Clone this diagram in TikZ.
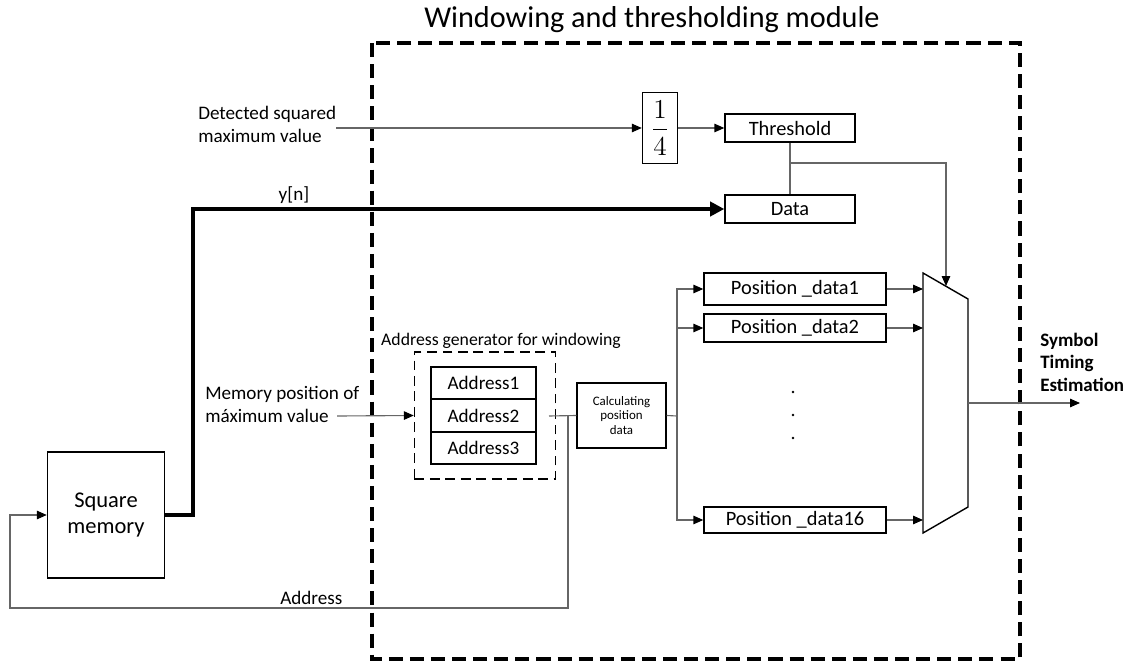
\documentclass[tikz,border=0pt]{standalone}
\usepackage{fontspec}
\setmainfont{Carlito}
\usepackage{amsmath}
\usetikzlibrary{arrows.meta}

\tikzset{
  blk/.style={draw, line width=1pt, inner sep=0pt, font=\fontsize{14.5}{17}\selectfont},
  addrbox/.style={blk, minimum width=2.625cm, minimum height=0.8cm, font=\fontsize{13.6}{16}\selectfont},
  posbox/.style={blk, minimum width=4.55cm},
  conn/.style={draw=black!60, line width=0.8pt},
  tip/.style={-{Triangle[color=black, length=7pt, width=6pt]}},
  bus/.style={draw=black, line width=3.5pt, -{Triangle[length=10pt, width=10pt]}},
  lbl/.style={inner sep=2pt, font=\fontsize{13.6}{16.4}\selectfont}
}

\begin{document}
\begin{tikzpicture}[x=0.025cm, y=-0.025cm]
        \useasboundingbox (0,0) rectangle (1131,662);

        \draw[line width=2.8pt, dash pattern=on 10pt off 5pt] (372,43) rectangle (1020,659);
        \node[font=\fontsize{21.5}{25}\selectfont] (title) at (652,20) {Windowing and thresholding module};

        \node[blk, minimum width=0.875cm, minimum height=1.775cm]
              (frac) at (660,128) {\scalebox{1.35}{$\dfrac{1}{4}$}};
        \node[blk, minimum width=3.25cm, minimum height=0.7cm] (thr) at (790,128) {Threshold};
        \node[blk, minimum width=3.25cm, minimum height=0.7cm] (data) at (790,209) {Data};
        \node[blk, minimum width=2.925cm, minimum height=3.15cm, align=center,
              font=\fontsize{16}{19}\selectfont] (sqmem) at (106,515) {Square\\memory};

        \node[draw, line width=1pt, dash pattern=on 7pt off 4pt, minimum width=3.525cm,
              minimum height=3.175cm] (addrgen) at (485,415.5) {};
        \node[lbl, font=\fontsize{12.6}{15}\selectfont] (agtitle) at (501,341) {Address generator for windowing};
        \node[addrbox] (addr1) at (483.5,383) {Address1};
        \node[addrbox] (addr2) at (483.5,415.5) {Address2};
        \node[addrbox] (addr3) at (483.5,448) {Address3};

        \node[blk, minimum width=2.225cm, minimum height=1.625cm, align=center,
              font=\fontsize{9.2}{10.3}\selectfont] (calc) at (621.5,415.5) {Calculating\\position\\data};

        \node[posbox, minimum height=0.8cm] (pos1) at (795,289) {Position \_data1};
        \node[posbox, minimum height=0.7cm] (pos2) at (795,328) {Position \_data2};
        \node[posbox, minimum height=0.65cm] (pos16) at (795,520) {Position \_data16};
        \fill (793,392) circle (1pt);
        \fill (793,415) circle (1pt);
        \fill (793,438) circle (1pt);

        \coordinate (muxtl) at (923,273);
        \coordinate (muxtr) at (968,299);
        \coordinate (muxbr) at (968,507);
        \coordinate (muxbl) at (923,533);
        \draw[line width=1pt] (muxtl) -- (muxtr) -- (muxbr) -- (muxbl) -- cycle;
        \coordinate (muxsel) at (946,286);
        \coordinate (muxout) at (968,403);
        \coordinate (steout) at (1080,403);

        \node[lbl, anchor=west, align=left, inner sep=0pt] (dsm) at (198,124) {Detected squared\\maximum value};
        \node[lbl, anchor=west, align=left, inner sep=0pt] (mpos) at (205,404) {Memory position of\\máximum value};
        \node[lbl, anchor=west, align=left, inner sep=0pt, font=\bfseries\fontsize{13.5}{16}\selectfont]
              (ste) at (1040,362) {Symbol\\Timing\\Estimation};

        \draw[conn, tip] (dsm.east |- frac.west) -- (frac.west);
        \draw[conn, tip] (frac.east) -- (thr.west);
        \draw[conn] (thr.south) -- (data.north);
        \coordinate (thrtap) at (790,163);
        \draw[conn, tip] (thrtap) -| (muxsel);

        \coordinate (ybend) at (193,209);
        \draw[bus] (sqmem.east) -| (ybend) -- node[lbl, above, pos=0.19] (yn) {y[n]} (data.west);

        \coordinate (mposout) at (337,416);
        \draw[conn, tip] (mposout) -- (addrgen.west);

        \coordinate (agout) at (549,416);
        \coordinate (fb) at (568,416);
        \coordinate (abot) at (568,608);
        \coordinate (aleft) at (10,608);
        \draw[conn] (agout) -- (calc.west);
        \draw[conn, tip] (fb) -- (abot) -- node[lbl, above, pos=0.46] (addrlab) {Address} (aleft) |- (sqmem.west);

        \coordinate (split) at (677,416);
        \draw[conn] (calc.east) -- (split);
        \draw[conn, tip] (split) |- (pos1.west);
        \draw[conn, tip] (split) |- (pos2.west);
        \draw[conn, tip] (split) |- (pos16.west);

        \draw[conn, tip] (pos1.east) -- (pos1.east -| muxtl);
        \draw[conn, tip] (pos2.east) -- (pos2.east -| muxtl);
        \draw[conn, tip] (pos16.east) -- (pos16.east -| muxtl);
        \draw[conn, tip] (muxout) -- (steout);
    \end{tikzpicture}
\end{document}
